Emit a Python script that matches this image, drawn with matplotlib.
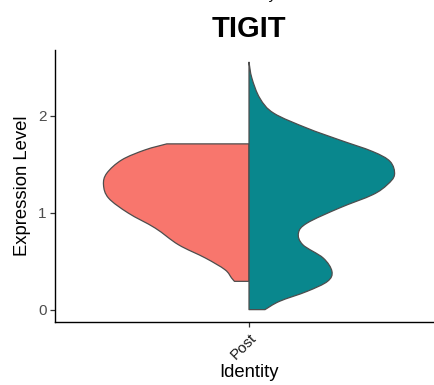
import numpy as np
import matplotlib
matplotlib.use("Agg")
import matplotlib.pyplot as plt
from matplotlib.path import Path
from matplotlib.patches import PathPatch

plt.rcParams['font.family'] = ['Liberation Sans', 'DejaVu Sans']

# Split violin for TIGIT expression in the "Post" identity
category = "Post"
gene = "TIGIT"

# Left half (salmon group): expression level and relative density
left_level = [0.292, 0.327, 0.412, 0.533, 0.670, 0.842, 0.997, 1.151,
              1.289, 1.409, 1.546, 1.649, 1.711]
left_density = [0.10, 0.12, 0.165, 0.30, 0.485, 0.645, 0.83, 0.965,
                1.00, 0.977, 0.874, 0.714, 0.565]

# Right half (teal group)
right_level = [0.0, 0.086, 0.189, 0.292, 0.395, 0.533, 0.670, 0.791,
               0.894, 1.048, 1.186, 1.289, 1.392, 1.529, 1.632, 1.753,
               1.873, 2.028, 2.182, 2.389, 2.554]
right_density = [0.11, 0.21, 0.40, 0.54, 0.57, 0.51, 0.37, 0.34,
                 0.40, 0.62, 0.85, 0.95, 1.00, 0.97, 0.85, 0.62,
                 0.40, 0.17, 0.075, 0.02, 0.0]

y_ticks = [0, 1, 2]

LEFT_COLOR = "#F8766D"
RIGHT_COLOR = "#09878D"
EDGE = "#4D4D4D"
HALF_WIDTH = 0.45


def smooth_half(ax, center, levels, density, side, color):
    """Draw one half of a violin as a smooth closed outline."""
    xs = center + side * HALF_WIDTH * np.asarray(density, float)
    ys = np.asarray(levels, float)
    pts = np.column_stack([xs, ys])
    verts = [(center, ys[0]), tuple(pts[0])]
    codes = [Path.MOVETO, Path.LINETO]
    n = len(pts)
    for i in range(n - 1):
        p0 = pts[i - 1] if i > 0 else pts[i]
        p1 = pts[i]
        p2 = pts[i + 1]
        p3 = pts[i + 2] if i + 2 < n else pts[i + 1]
        c1 = p1 + (p2 - p0) / 6.0
        c2 = p2 - (p3 - p1) / 6.0
        verts += [tuple(c1), tuple(c2), tuple(p2)]
        codes += [Path.CURVE4] * 3
    verts += [(center, ys[-1]), (center, ys[0])]
    codes += [Path.LINETO, Path.CLOSEPOLY]
    patch = PathPatch(Path(verts, codes), facecolor=color, edgecolor=EDGE,
                      linewidth=0.9, joinstyle='round')
    ax.add_patch(patch)


fig = plt.figure(figsize=(4.34, 3.85), dpi=100)
ax = fig.add_axes([55 / 434, 63 / 385, 388 / 434, 272 / 385])

center = 1.0
smooth_half(ax, center, left_level, left_density, -1, LEFT_COLOR)
smooth_half(ax, center, right_level, right_density, +1, RIGHT_COLOR)

ax.set_xlim(0.4, 1.6)
ax.set_ylim(-0.1277, 2.68)
ax.set_xticks([center])
ax.set_xticklabels([category], rotation=45, ha='right', va='top',
                   rotation_mode='anchor', fontsize=11, color='#1a1a1a')
ax.set_yticks(y_ticks)
ax.set_yticklabels([str(t) for t in y_ticks], fontsize=11, color='#4D4D4D')

for s in ['top', 'right']:
    ax.spines[s].set_visible(False)
for s in ['left', 'bottom']:
    ax.spines[s].set_linewidth(1.0)
    ax.spines[s].set_color('black')
ax.tick_params(axis='both', length=3.5, width=0.9, color='#333333', pad=2.5)

ax.set_ylabel("Expression Level", fontsize=13.3, labelpad=5)
ax.set_xlabel("Identity", fontsize=13.3, labelpad=2)

fig.text(249 / 434, 1 - 29 / 385, gene, ha='center', va='center',
         fontsize=21, fontweight='bold')
# Upper heading runs off the top edge; only its descender shows
fig.text(252 / 434, 1 + 1.2 / 385, "Identity", ha='center', va='baseline',
         fontsize=11)

fig.savefig("out.png", dpi=100)
